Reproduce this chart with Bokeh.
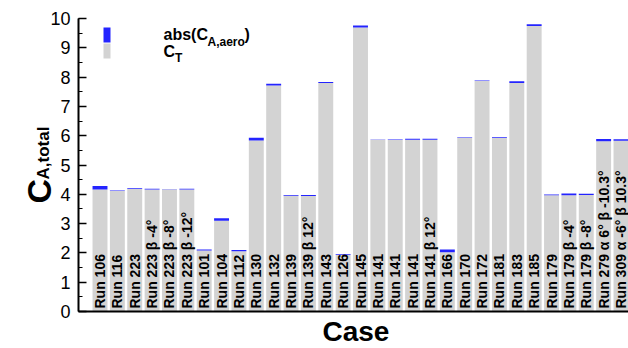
import math
from bokeh.plotting import figure
from bokeh.models import (Range1d, SingleIntervalTicker, FixedTicker, Label,
                          BoxAnnotation, ColumnDataSource)
from bokeh.core.properties import value
from bokeh.embed import file_html
from bokeh.resources import INLINE

# ---- data ----
cases = ["Run 106", "Run 116", "Run 223", "Run 223 β -4°", "Run 223 β -8°",
         "Run 223 β -12°", "Run 101", "Run 104", "Run 112", "Run 130",
         "Run 132", "Run 139", "Run 139 β 12°", "Run 143", "Run 126",
         "Run 145", "Run 141", "Run 141", "Run 141", "Run 141 β 12°",
         "Run 166", "Run 170", "Run 172", "Run 181", "Run 183", "Run 185",
         "Run 179", "Run 179 β -4°", "Run 179 β -8°",
         "Run 279 α 6° β -10.3°", "Run 309 α -6° β 10.3°"]
c_t = [4.16, 4.11, 4.18, 4.16, 4.16, 4.16, 2.08, 3.10, 2.06, 5.84,
       7.71, 3.95, 3.94, 7.80, 1.93, 9.69, 5.86, 5.85, 5.86, 5.86,
       2.02, 5.93, 7.87, 5.92, 7.80, 9.74, 3.97, 3.97, 3.98, 5.81, 5.83]
c_a_aero = [0.12, 0.02, 0.03, 0.03, 0.01, 0.03, 0.04, 0.08, 0.04, 0.09,
            0.06, 0.03, 0.04, 0.03, 0.02, 0.07, 0.01, 0.02, 0.04, 0.04,
            0.10, 0.02, 0.01, 0.03, 0.06, 0.06, 0.02, 0.06, 0.04, 0.08, 0.05]
y_lo, y_hi = 0, 10

idx = list(range(len(cases)))
total = [a + b for a, b in zip(c_t, c_a_aero)]
src = ColumnDataSource(dict(x=idx, ct=c_t, tot=total, label=cases,
                            zero=[0] * len(cases)))

FONT = "Liberation Sans"
BLUE = "#2424ff"
GRAY = "#d3d3d3"
W, H = 628, 348

# layout: frame covers whole canvas; axes drawn at fixed locations
SX = 521.0 / 30          # px per category step
SY = 293.0 / 10          # px per unit
X0 = -99.5 / SX
X1 = (W - 99.5) / SX
Y1 = 311.0 / SY
Y0 = (311.0 - H) / SY

def gx(px):
    return X0 + px * (X1 - X0) / W

def gy(py):
    return Y1 - py * (Y1 - Y0) / H

p = figure(width=W, height=H, output_backend="svg", toolbar_location=None,
           x_range=Range1d(X0, X1), y_range=Range1d(Y0, Y1),
           min_border=0, min_border_left=0, min_border_right=0,
           min_border_top=0, min_border_bottom=0)
p.grid.visible = False
p.outline_line_color = None
p.background_fill_color = "white"

p.vbar(x="x", bottom="zero", top="ct", width=0.86, source=src,
       fill_color=GRAY, line_color=None)
p.vbar(x="x", bottom="ct", top="tot", width=0.86, source=src,
       fill_color=BLUE, line_color=None)

p.text(x="x", y="zero", text="label", source=src, angle=math.pi / 2,
       text_align="left", text_baseline="middle", y_offset=-3,
       text_font=value(FONT), text_font_style="bold",
       text_font_size="14px", text_color="black")

x_axis_pos = gx(78)

# y axis
ya = p.yaxis[0]
ya.fixed_location = x_axis_pos
ya.bounds = (y_lo, y_hi)
ya.ticker = SingleIntervalTicker(interval=1, num_minor_ticks=2)
ya.axis_line_width = 2
ya.major_tick_in = 8
ya.major_tick_out = 0
ya.minor_tick_in = 4
ya.minor_tick_out = 0
ya.major_tick_line_width = 1.5
ya.major_label_text_font = FONT
ya.major_label_text_font_size = "18px"
ya.major_label_text_color = "black"
ya.major_label_standoff = 8

# x axis
xa = p.xaxis[0]
xa.fixed_location = 0
xa.bounds = (x_axis_pos, X1)
xa.ticker = FixedTicker(ticks=[])
xa.axis_line_width = 2
xa.major_tick_line_color = None
xa.minor_tick_line_color = None
xa.major_tick_out = 0

def lab(txt, px, py, size, angle=0.0, bold=True):
    fs = float(size.replace("px", ""))
    if angle == 0.0:
        py = py - 0.4 * fs
    else:
        px = px - 2
    p.add_layout(Label(x=gx(px), y=gy(py), text=txt, angle=angle,
                       text_font=FONT, text_font_size=size,
                       text_font_style="bold" if bold else "normal",
                       text_align="left", text_baseline="alphabetic",
                       text_color="black"))

# axis titles
lab("C", 40, 203, "34px", angle=math.pi / 2)
lab("A,total", 44.5, 179, "17px", angle=math.pi / 2)
lab("Case", 322, 342, "28px")

# legend
p.add_layout(BoxAnnotation(left=gx(103), right=gx(110), top=gy(27), bottom=gy(42),
                           fill_color=BLUE, fill_alpha=1, line_color=None))
p.add_layout(BoxAnnotation(left=gx(103), right=gx(110), top=gy(43), bottom=gy(58),
                           fill_color=GRAY, fill_alpha=1, line_color=None))
lab("abs(C", 163, 40, "16px")
lab("A,aero", 207, 46, "12px")
lab(")", 244, 40, "16px")
lab("C", 163, 57, "16px")
lab("T", 174.5, 62, "12px")

open("out.html", "w").write(file_html(p, INLINE))
